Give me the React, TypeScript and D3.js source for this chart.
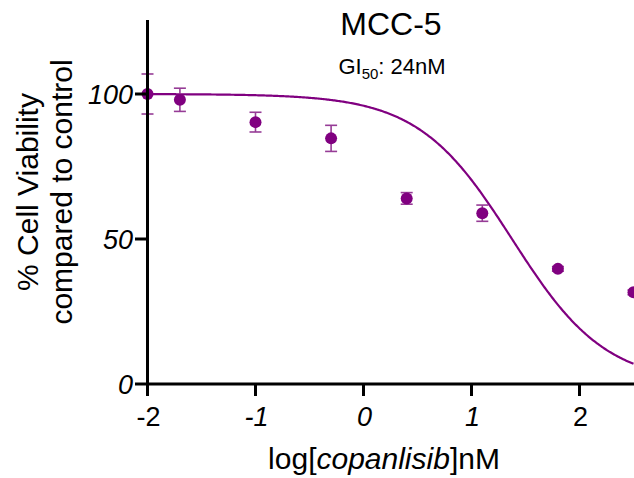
import React from "react";
import * as d3 from "d3";

const logDose = [-2, -1.7, -1, -0.3, 0.4, 1.1, 1.8, 2.5];
const viability = [100, 98, 90.3, 84.7, 64, 58.9, 39.7, 31.6];
const errorSD = [6.9, 4, 3.4, 4.5, 2, 2.8, 0.8, 0.8];
const xTicks = [-2, -1, 0, 1, 2];
const yTicks = [0, 50, 100];
const uprightXTicks = [-2, 2];
// fitted curve parameters
const fitTop = 100;
const fitBottom = 0;
const fitLogGI50 = 1.375;
const fitHill = 1.0;

const W = 634;
const H = 478;
const PURPLE = "#800080";
const BAR = "#963c96";
const FONT = "'Liberation Sans', Arial, sans-serif";

export default function App() {
  const x = d3.scaleLinear().domain([-2, 2.5]).range([147.5, 633.5]);
  const y = d3.scaleLinear().domain([0, 125]).range([384, 21.5]);
  const model = (v: number) =>
    fitBottom + (fitTop - fitBottom) / (1 + Math.pow(10, (v - fitLogGI50) * fitHill));
  const curvePts = d3.range(0, 401).map((i) => -2 + (4.5 * i) / 400);
  const line = d3
    .line<number>()
    .x((d) => x(d))
    .y((d) => y(model(d)))
    .curve(d3.curveLinear);

  return (
    <svg
      width={W}
      height={H}
      style={{ position: "absolute", left: 0, top: 0, background: "#fff" }}
      fontFamily={FONT}
    >
      <rect width={W} height={H} fill="#fff" />
      {/* title */}
      <text x={391} y={35} fontSize={32} textAnchor="middle" fill="#000">
        MCC-5
      </text>
      <text x={392} y={74} fontSize={22} textAnchor="middle" fill="#000">
        GI<tspan fontSize={15} dy={5}>50</tspan>
        <tspan dy={-5}>: 24nM</tspan>
      </text>

      {/* y label */}
      <g transform="translate(38,192) rotate(-90)">
        <text x={0} y={0} fontSize={30} textAnchor="middle" fill="#000">
          % Cell Viability
        </text>
        <text x={0} y={34} fontSize={30} textAnchor="middle" fill="#000">
          compared to control
        </text>
      </g>

      {/* x label */}
      <text x={384} y={469} fontSize={30} textAnchor="middle" fill="#000">
        log[<tspan fontStyle="italic">copanlisib</tspan>]nM
      </text>

      {/* curve */}
      <path d={line(curvePts) || ""} fill="none" stroke={PURPLE} strokeWidth={2.2} />

      {/* error bars and points */}
      {logDose.map((d, i) => {
        const cx = x(d);
        const y1 = y(viability[i] + errorSD[i]);
        const y2 = y(viability[i] - errorSD[i]);
        return (
          <g key={i}>
            <line x1={cx} x2={cx} y1={y1} y2={y2} stroke={BAR} strokeWidth={1.6} />
            <line x1={cx - 6} x2={cx + 6} y1={y1} y2={y1} stroke={BAR} strokeWidth={1.6} />
            <line x1={cx - 6} x2={cx + 6} y1={y2} y2={y2} stroke={BAR} strokeWidth={1.6} />
            <circle cx={cx} cy={y(viability[i])} r={6} fill={PURPLE} />
          </g>
        );
      })}

      {/* axes */}
      <line x1={147.5} x2={147.5} y1={20} y2={385.5} stroke="#000" strokeWidth={3} />
      <line x1={146} x2={634} y1={384} y2={384} stroke="#000" strokeWidth={3} />
      {yTicks.map((t) => (
        <g key={"y" + t}>
          <line x1={135} x2={147.5} y1={y(t)} y2={y(t)} stroke="#000" strokeWidth={3} />
          <text
            x={133}
            y={y(t) + 10}
            fontSize={27}
            fontStyle="italic"
            textAnchor="end"
            fill="#000"
          >
            {t}
          </text>
        </g>
      ))}
      {xTicks.map((t) => (
        <g key={"x" + t}>
          <line x1={x(t)} x2={x(t)} y1={384} y2={396} stroke="#000" strokeWidth={3} />
          <text
            x={x(t) + 1}
            y={426}
            fontSize={27}
            fontStyle={uprightXTicks.includes(t) ? "normal" : "italic"}
            textAnchor="middle"
            fill="#000"
          >
            {t}
          </text>
        </g>
      ))}
    </svg>
  );
}
